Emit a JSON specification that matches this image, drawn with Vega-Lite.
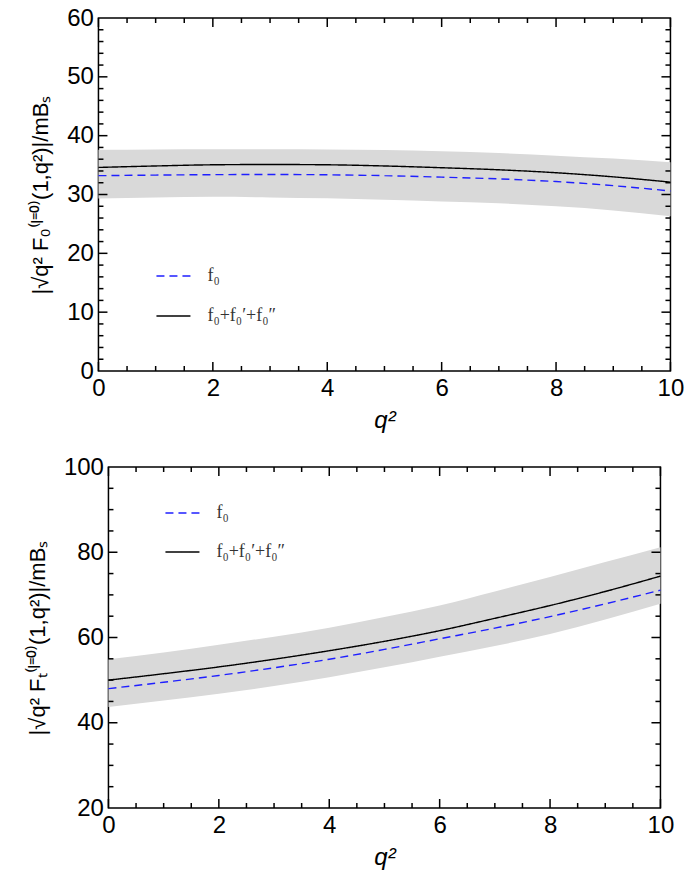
{
  "$schema": "https://vega.github.io/schema/vega-lite/v6.json",
  "padding": {"left": 25, "top": 5, "right": 5, "bottom": 5},
  "background": "white",
  "datasets": {
    "topBand": [
      {"q2": 0, "lo": 29.3, "hi": 37.6}, {"q2": 1, "lo": 29.5, "hi": 37.65}, {"q2": 2, "lo": 29.6, "hi": 37.7},
      {"q2": 3, "lo": 29.5, "hi": 37.7}, {"q2": 4, "lo": 29.35, "hi": 37.65}, {"q2": 5, "lo": 29.1, "hi": 37.55},
      {"q2": 6, "lo": 28.8, "hi": 37.35}, {"q2": 7, "lo": 28.5, "hi": 37.05}, {"q2": 8, "lo": 28.0, "hi": 36.6},
      {"q2": 9, "lo": 27.3, "hi": 36.1}, {"q2": 10, "lo": 26.3, "hi": 35.5}
    ],
    "topLines": [
      {"q2": 0, "series": "f₀", "v": 33.2}, {"q2": 1, "series": "f₀", "v": 33.3}, {"q2": 2, "series": "f₀", "v": 33.37},
      {"q2": 3, "series": "f₀", "v": 33.4}, {"q2": 4, "series": "f₀", "v": 33.35}, {"q2": 5, "series": "f₀", "v": 33.2},
      {"q2": 6, "series": "f₀", "v": 32.95}, {"q2": 7, "series": "f₀", "v": 32.65}, {"q2": 8, "series": "f₀", "v": 32.2},
      {"q2": 9, "series": "f₀", "v": 31.5}, {"q2": 10, "series": "f₀", "v": 30.6},
      {"q2": 0, "series": "f₀+f₀′+f₀″", "v": 34.6}, {"q2": 1, "series": "f₀+f₀′+f₀″", "v": 34.85}, {"q2": 2, "series": "f₀+f₀′+f₀″", "v": 35.05},
      {"q2": 3, "series": "f₀+f₀′+f₀″", "v": 35.1}, {"q2": 4, "series": "f₀+f₀′+f₀″", "v": 35.05}, {"q2": 5, "series": "f₀+f₀′+f₀″", "v": 34.85},
      {"q2": 6, "series": "f₀+f₀′+f₀″", "v": 34.55}, {"q2": 7, "series": "f₀+f₀′+f₀″", "v": 34.2}, {"q2": 8, "series": "f₀+f₀′+f₀″", "v": 33.7},
      {"q2": 9, "series": "f₀+f₀′+f₀″", "v": 33.0}, {"q2": 10, "series": "f₀+f₀′+f₀″", "v": 32.1}
    ],
    "botBand": [
      {"q2": 0, "lo": 43.7, "hi": 54.9}, {"q2": 1, "lo": 45.2, "hi": 56.5}, {"q2": 2, "lo": 46.8, "hi": 58.3},
      {"q2": 3, "lo": 48.6, "hi": 60.2}, {"q2": 4, "lo": 50.7, "hi": 62.3}, {"q2": 5, "lo": 53.0, "hi": 64.8},
      {"q2": 6, "lo": 55.5, "hi": 67.5}, {"q2": 7, "lo": 58.0, "hi": 70.8}, {"q2": 8, "lo": 60.8, "hi": 74.2},
      {"q2": 9, "lo": 64.2, "hi": 77.7}, {"q2": 10, "lo": 67.9, "hi": 81.2}
    ],
    "botLines": [
      {"q2": 0, "series": "f₀", "v": 48.0}, {"q2": 1, "series": "f₀", "v": 49.5}, {"q2": 2, "series": "f₀", "v": 51.1},
      {"q2": 3, "series": "f₀", "v": 52.9}, {"q2": 4, "series": "f₀", "v": 54.9}, {"q2": 5, "series": "f₀", "v": 57.2},
      {"q2": 6, "series": "f₀", "v": 59.7}, {"q2": 7, "series": "f₀", "v": 62.2}, {"q2": 8, "series": "f₀", "v": 64.9},
      {"q2": 9, "series": "f₀", "v": 67.9}, {"q2": 10, "series": "f₀", "v": 71.1},
      {"q2": 0, "series": "f₀+f₀′+f₀″", "v": 50.0}, {"q2": 1, "series": "f₀+f₀′+f₀″", "v": 51.5}, {"q2": 2, "series": "f₀+f₀′+f₀″", "v": 53.1},
      {"q2": 3, "series": "f₀+f₀′+f₀″", "v": 54.9}, {"q2": 4, "series": "f₀+f₀′+f₀″", "v": 56.9}, {"q2": 5, "series": "f₀+f₀′+f₀″", "v": 59.1},
      {"q2": 6, "series": "f₀+f₀′+f₀″", "v": 61.6}, {"q2": 7, "series": "f₀+f₀′+f₀″", "v": 64.5}, {"q2": 8, "series": "f₀+f₀′+f₀″", "v": 67.5},
      {"q2": 9, "series": "f₀+f₀′+f₀″", "v": 70.8}, {"q2": 10, "series": "f₀+f₀′+f₀″", "v": 74.4}
    ],
    "xMajor": [{"t": 0}, {"t": 2}, {"t": 4}, {"t": 6}, {"t": 8}, {"t": 10}],
    "xMinor": [{"t": 0.5}, {"t": 1}, {"t": 1.5}, {"t": 2.5}, {"t": 3}, {"t": 3.5}, {"t": 4.5}, {"t": 5}, {"t": 5.5}, {"t": 6.5}, {"t": 7}, {"t": 7.5}, {"t": 8.5}, {"t": 9}, {"t": 9.5}],
    "topYMajor": [{"t": 10}, {"t": 20}, {"t": 30}, {"t": 40}, {"t": 50}],
    "topYMinor": [{"t": 2}, {"t": 4}, {"t": 6}, {"t": 8}, {"t": 12}, {"t": 14}, {"t": 16}, {"t": 18}, {"t": 22}, {"t": 24}, {"t": 26}, {"t": 28}, {"t": 32}, {"t": 34}, {"t": 36}, {"t": 38}, {"t": 42}, {"t": 44}, {"t": 46}, {"t": 48}, {"t": 52}, {"t": 54}, {"t": 56}, {"t": 58}],
    "botYMajor": [{"t": 40}, {"t": 60}, {"t": 80}],
    "botYMinor": [{"t": 25}, {"t": 30}, {"t": 35}, {"t": 45}, {"t": 50}, {"t": 55}, {"t": 65}, {"t": 70}, {"t": 75}, {"t": 85}, {"t": 90}, {"t": 95}]
  },
  "columns": 1,
  "center": true,
  "spacing": 21,
  "resolve": {
    "scale": {"color": "independent", "strokeDash": "independent"},
    "legend": {"color": "independent", "strokeDash": "independent"}
  },
  "concat": [
    {
      "width": 572,
      "height": 353,
      "layer": [
        {
          "data": {"name": "topBand"},
          "mark": {"type": "area", "color": "#d9d9d9", "interpolate": "monotone"},
          "encoding": {
            "x": {"field": "q2", "type": "quantitative", "scale": {"domain": [0, 10], "nice": false},
                  "axis": {"orient": "bottom", "values": [0, 2, 4, 6, 8, 10], "format": "d", "labelPadding": 5, "title": "q²", "titleFontSize": 24, "titleFontStyle": "italic", "titleFontWeight": "normal", "titlePadding": 8}},
            "y": {"field": "hi", "type": "quantitative", "scale": {"domain": [0, 60], "nice": false},
                  "axis": {"orient": "left", "values": [0, 10, 20, 30, 40, 50, 60], "format": "d", "labelPadding": 5, "title": "|√q² F₀⁽ˡ⁼⁰⁾(1,q²)|/mBₛ", "titleFontSize": 22, "titleFontWeight": "normal", "titlePadding": 14}},
            "y2": {"field": "lo"}
          }
        },
        {
          "data": {"name": "topLines"},
          "mark": {"type": "line", "strokeWidth": 1.4, "interpolate": "monotone"},
          "encoding": {
            "x": {"field": "q2", "type": "quantitative"},
            "y": {"field": "v", "type": "quantitative"},
            "color": {"field": "series", "type": "nominal", "sort": ["f₀", "f₀+f₀′+f₀″"],
                      "scale": {"domain": ["f₀", "f₀+f₀′+f₀″"], "range": ["#1f1fff", "#000000"]},
                      "legend": {"orient": "none", "legendX": 57, "legendY": 240, "rowPadding": 13}},
            "strokeDash": {"field": "series", "type": "nominal", "sort": ["f₀", "f₀+f₀′+f₀″"],
                      "scale": {"domain": ["f₀", "f₀+f₀′+f₀″"], "range": [[8, 5], [1, 0]]},
                      "legend": {"orient": "none", "legendX": 57, "legendY": 240, "rowPadding": 13}}
          }
        },
        {"data": {"name": "xMajor"}, "mark": {"type": "tick", "orient": "vertical", "size": 9, "thickness": 1.5, "yOffset": -4.5, "color": "#000000", "opacity": 1},
         "encoding": {"x": {"field": "t", "type": "quantitative"}, "y": {"datum": 0, "type": "quantitative"}}},
        {"data": {"name": "xMinor"}, "mark": {"type": "tick", "orient": "vertical", "size": 5, "thickness": 1.5, "yOffset": -2.5, "color": "#000000", "opacity": 1},
         "encoding": {"x": {"field": "t", "type": "quantitative"}, "y": {"datum": 0, "type": "quantitative"}}},
        {"data": {"name": "xMajor"}, "mark": {"type": "tick", "orient": "vertical", "size": 9, "thickness": 1.5, "yOffset": 4.5, "color": "#000000", "opacity": 1},
         "encoding": {"x": {"field": "t", "type": "quantitative"}, "y": {"datum": 60, "type": "quantitative"}}},
        {"data": {"name": "xMinor"}, "mark": {"type": "tick", "orient": "vertical", "size": 5, "thickness": 1.5, "yOffset": 2.5, "color": "#000000", "opacity": 1},
         "encoding": {"x": {"field": "t", "type": "quantitative"}, "y": {"datum": 60, "type": "quantitative"}}},
        {"data": {"name": "topYMajor"}, "mark": {"type": "tick", "orient": "horizontal", "size": 9, "thickness": 1.5, "xOffset": 4.5, "color": "#000000", "opacity": 1},
         "encoding": {"y": {"field": "t", "type": "quantitative"}, "x": {"datum": 0, "type": "quantitative"}}},
        {"data": {"name": "topYMinor"}, "mark": {"type": "tick", "orient": "horizontal", "size": 5, "thickness": 1.5, "xOffset": 2.5, "color": "#000000", "opacity": 1},
         "encoding": {"y": {"field": "t", "type": "quantitative"}, "x": {"datum": 0, "type": "quantitative"}}},
        {"data": {"name": "topYMajor"}, "mark": {"type": "tick", "orient": "horizontal", "size": 9, "thickness": 1.5, "xOffset": -4.5, "color": "#000000", "opacity": 1},
         "encoding": {"y": {"field": "t", "type": "quantitative"}, "x": {"datum": 10, "type": "quantitative"}}},
        {"data": {"name": "topYMinor"}, "mark": {"type": "tick", "orient": "horizontal", "size": 5, "thickness": 1.5, "xOffset": -2.5, "color": "#000000", "opacity": 1},
         "encoding": {"y": {"field": "t", "type": "quantitative"}, "x": {"datum": 10, "type": "quantitative"}}}
      ]
    },
    {
      "width": 552,
      "height": 341,
      "layer": [
        {
          "data": {"name": "botBand"},
          "mark": {"type": "area", "color": "#d9d9d9", "interpolate": "monotone"},
          "encoding": {
            "x": {"field": "q2", "type": "quantitative", "scale": {"domain": [0, 10], "nice": false},
                  "axis": {"orient": "bottom", "values": [0, 2, 4, 6, 8, 10], "format": "d", "labelPadding": 5, "title": "q²", "titleFontSize": 24, "titleFontStyle": "italic", "titleFontWeight": "normal", "titlePadding": 8}},
            "y": {"field": "hi", "type": "quantitative", "scale": {"domain": [20, 100], "nice": false},
                  "axis": {"orient": "left", "values": [20, 40, 60, 80, 100], "format": "d", "labelPadding": 5, "title": "|√q² Fₜ⁽ˡ⁼⁰⁾(1,q²)|/mBₛ", "titleFontSize": 22, "titleFontWeight": "normal", "titlePadding": 14}},
            "y2": {"field": "lo"}
          }
        },
        {
          "data": {"name": "botLines"},
          "mark": {"type": "line", "strokeWidth": 1.4, "interpolate": "monotone"},
          "encoding": {
            "x": {"field": "q2", "type": "quantitative"},
            "y": {"field": "v", "type": "quantitative"},
            "color": {"field": "series", "type": "nominal", "sort": ["f₀", "f₀+f₀′+f₀″"],
                      "scale": {"domain": ["f₀", "f₀+f₀′+f₀″"], "range": ["#1f1fff", "#000000"]},
                      "legend": {"orient": "none", "legendX": 56, "legendY": 28, "rowPadding": 12}},
            "strokeDash": {"field": "series", "type": "nominal", "sort": ["f₀", "f₀+f₀′+f₀″"],
                      "scale": {"domain": ["f₀", "f₀+f₀′+f₀″"], "range": [[8, 5], [1, 0]]},
                      "legend": {"orient": "none", "legendX": 56, "legendY": 28, "rowPadding": 12}}
          }
        },
        {"data": {"name": "xMajor"}, "mark": {"type": "tick", "orient": "vertical", "size": 9, "thickness": 1.5, "yOffset": -4.5, "color": "#000000", "opacity": 1},
         "encoding": {"x": {"field": "t", "type": "quantitative"}, "y": {"datum": 20, "type": "quantitative"}}},
        {"data": {"name": "xMinor"}, "mark": {"type": "tick", "orient": "vertical", "size": 5, "thickness": 1.5, "yOffset": -2.5, "color": "#000000", "opacity": 1},
         "encoding": {"x": {"field": "t", "type": "quantitative"}, "y": {"datum": 20, "type": "quantitative"}}},
        {"data": {"name": "xMajor"}, "mark": {"type": "tick", "orient": "vertical", "size": 9, "thickness": 1.5, "yOffset": 4.5, "color": "#000000", "opacity": 1},
         "encoding": {"x": {"field": "t", "type": "quantitative"}, "y": {"datum": 100, "type": "quantitative"}}},
        {"data": {"name": "xMinor"}, "mark": {"type": "tick", "orient": "vertical", "size": 5, "thickness": 1.5, "yOffset": 2.5, "color": "#000000", "opacity": 1},
         "encoding": {"x": {"field": "t", "type": "quantitative"}, "y": {"datum": 100, "type": "quantitative"}}},
        {"data": {"name": "botYMajor"}, "mark": {"type": "tick", "orient": "horizontal", "size": 9, "thickness": 1.5, "xOffset": 4.5, "color": "#000000", "opacity": 1},
         "encoding": {"y": {"field": "t", "type": "quantitative"}, "x": {"datum": 0, "type": "quantitative"}}},
        {"data": {"name": "botYMinor"}, "mark": {"type": "tick", "orient": "horizontal", "size": 5, "thickness": 1.5, "xOffset": 2.5, "color": "#000000", "opacity": 1},
         "encoding": {"y": {"field": "t", "type": "quantitative"}, "x": {"datum": 0, "type": "quantitative"}}},
        {"data": {"name": "botYMajor"}, "mark": {"type": "tick", "orient": "horizontal", "size": 9, "thickness": 1.5, "xOffset": -4.5, "color": "#000000", "opacity": 1},
         "encoding": {"y": {"field": "t", "type": "quantitative"}, "x": {"datum": 10, "type": "quantitative"}}},
        {"data": {"name": "botYMinor"}, "mark": {"type": "tick", "orient": "horizontal", "size": 5, "thickness": 1.5, "xOffset": -2.5, "color": "#000000", "opacity": 1},
         "encoding": {"y": {"field": "t", "type": "quantitative"}, "x": {"datum": 10, "type": "quantitative"}}}
      ]
    }
  ],
  "config": {
    "font": "Liberation Sans",
    "view": {"stroke": "#000000", "strokeWidth": 1.5},
    "axis": {"domain": false, "grid": false, "ticks": false, "labelColor": "#000000", "labelFont": "Liberation Sans", "labelFontSize": 24, "titleFont": "Liberation Sans", "titleColor": "#000000", "labelFlush": false, "labelOverlap": false},
    "legend": {"title": null, "symbolType": "stroke", "symbolSize": 1156, "symbolStrokeWidth": 1.4, "labelFont": "Liberation Serif", "labelFontSize": 18, "labelColor": "#333333", "labelOffset": 16, "padding": 0}
  }
}
